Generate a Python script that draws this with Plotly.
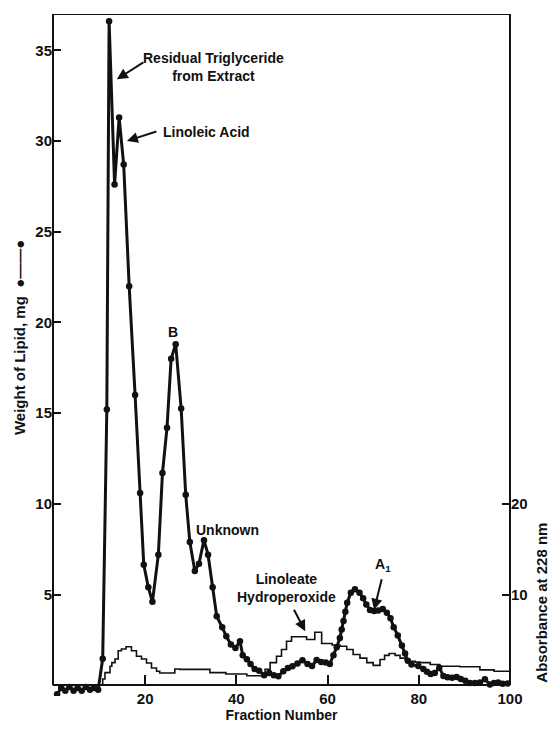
import plotly.graph_objects as go

# ---- data ----
fraction_lipid = [0.7, 1.6, 2.5, 3.4, 4.3, 5.2, 6.1, 7.0, 7.9, 8.8, 9.7,
                  10.7, 11.6, 12.1, 13.3, 14.3, 15.3, 16.5, 17.8, 18.9, 19.7,
                  20.7, 21.6, 22.9, 23.8, 24.8, 25.7, 26.7, 27.9, 28.9, 29.8,
                  30.9, 31.8, 32.9, 33.8, 34.8, 35.7, 36.9, 37.8, 38.8, 39.8,
                  40.8, 41.4, 42.3, 43.1, 44.0, 45.0, 46.1, 47.2, 48.2, 49.2,
                  50.3, 51.3, 52.3, 53.4, 54.5, 55.6, 56.6, 57.6, 58.6, 59.6,
                  60.5, 61.3, 62.0, 62.7, 63.1, 63.5, 63.9, 64.3, 65.1, 66.0,
                  67.0, 67.8, 68.5, 69.3, 70.2, 71.1, 72.1, 73.0, 73.8, 74.5,
                  75.4, 76.3, 77.0, 77.6, 78.4, 79.9, 81.0, 81.8, 82.6, 83.5,
                  84.5, 85.4, 86.3, 87.3, 88.3, 89.2, 90.2, 91.2, 92.3, 93.4,
                  94.5, 95.6, 96.5, 97.4, 98.4, 99.5]
lipid_mg = [-0.5, -0.15, -0.3, -0.1, -0.3, -0.15, -0.3, -0.1, -0.25, -0.15, -0.25,
            1.46, 15.2, 36.6, 27.6, 31.3, 28.7, 22.0, 16.0, 10.6, 6.65,
            5.4, 4.6, 7.2, 11.7, 14.2, 18.0, 18.8, 15.25, 10.5, 7.9,
            6.3, 6.7, 8.0, 7.2, 5.4, 3.8, 3.2, 2.7, 2.25, 2.05,
            2.43, 1.65, 1.43, 1.18, 0.9, 0.8, 0.55, 0.68, 0.55, 0.5,
            0.78, 0.95, 1.05, 1.2, 1.38, 1.18, 1.06, 1.4, 1.28, 1.26,
            1.18, 1.65, 2.1, 2.6, 3.08, 3.55, 4.05, 4.55, 5.1, 5.3,
            5.1, 4.8, 4.45, 4.15, 4.1, 4.12, 4.2, 4.0, 3.7, 3.2,
            2.75, 2.2, 1.75, 1.35, 1.15, 1.06, 0.9, 0.75, 0.62, 0.68,
            0.97, 0.51, 0.45, 0.42, 0.46, 0.35, 0.25, 0.12, 0.12, 0.15,
            0.33, 0.05, 0.12, 0.15, 0.08, 0.1]

fraction_abs = [0.0, 10.7, 11.2, 12.3, 12.7, 13.4, 14.1, 14.8, 15.8, 17.0,
                18.1, 19.2, 20.3, 21.4, 22.5, 23.2, 26.5, 27.6, 34.2, 37.7,
                42.3, 46.3, 47.4, 48.8, 49.9, 51.0, 52.1, 55.4, 57.2, 58.7,
                61.0, 62.7, 64.2, 65.6, 67.1, 68.6, 70.0, 71.5, 72.5, 73.5,
                74.8, 75.9, 77.0, 78.1, 79.2, 80.3, 82.5, 84.6, 89.0, 93.4,
                96.5, 100.0]
absorbance_228 = [0.05, 0.7, 1.4, 2.1, 2.5, 2.9, 3.8, 4.0, 4.25, 3.8,
                  3.2, 2.9, 2.45, 1.9, 1.55, 1.35, 1.8, 1.75, 1.4, 1.25,
                  1.05, 1.75, 2.5, 3.2, 3.95, 4.85, 5.35, 5.05, 5.85, 4.6,
                  4.45, 4.3, 3.95, 3.4, 3.0, 2.5, 2.2, 2.85, 3.3, 3.5,
                  3.3, 3.0, 2.8, 2.65, 2.55, 2.5, 2.3, 2.1, 2.05, 1.7,
                  1.55, 1.45]

x_ticks = [20, 40, 60, 80, 100]
y_ticks = [5, 10, 15, 20, 25, 30, 35]
y2_ticks = [10, 20]

# ---- styling ----
FONT = "Liberation Sans, Arial, sans-serif"
INK = "#111111"
Y_MIN, Y_MAX = -0.59, 37.0
X_MIN, X_MAX = -0.2, 100.0

fig = go.Figure()
fig.add_trace(go.Scatter(
    x=fraction_abs, y=absorbance_228, yaxis="y2", mode="lines",
    line=dict(color=INK, width=1.6, shape="hv"), hoverinfo="skip", showlegend=False))
fig.add_trace(go.Scatter(
    x=fraction_lipid, y=lipid_mg, mode="lines+markers",
    line=dict(color=INK, width=3), marker=dict(size=6.5, color=INK),
    hoverinfo="skip", showlegend=False))

tickfont = dict(family=FONT, size=15, color=INK, weight="bold")
annfont = dict(family=FONT, size=14, color=INK, weight="bold")
titlefont = dict(family=FONT, size=15, color=INK, weight="bold")

fig.update_layout(
    width=550, height=731,
    margin=dict(l=53, r=40, t=14, b=31),
    paper_bgcolor="white", plot_bgcolor="white",
    xaxis=dict(range=[X_MIN, X_MAX], anchor="free",
               position=(0 - Y_MIN) / (Y_MAX - Y_MIN),
               showline=True, linecolor=INK, linewidth=2,
               ticks="inside", ticklen=9, tickwidth=2, tickcolor=INK,
               tickvals=x_ticks, tickfont=tickfont,
               title=dict(text="Fraction Number", font=annfont, standoff=2),
               showgrid=False, zeroline=False),
    yaxis=dict(range=[Y_MIN, Y_MAX], showline=False,
               ticks="inside", ticklen=8, tickwidth=2, tickcolor=INK,
               tickvals=y_ticks, tickfont=tickfont,
               showgrid=False, zeroline=False),
    yaxis2=dict(range=[2 * Y_MIN, 2 * Y_MAX], overlaying="y", side="right",
                showline=False, ticks="inside", ticklen=8, tickwidth=2,
                tickcolor=INK, tickvals=y2_ticks, tickfont=tickfont,
                showgrid=False, zeroline=False),
)

# frame (left, right, top)
for xp in (0, 1):
    fig.add_shape(type="line", xref="paper", yref="y", x0=xp, x1=xp,
                  y0=0, y1=Y_MAX, line=dict(color=INK, width=2))
fig.add_shape(type="line", xref="paper", yref="y", x0=0, x1=1,
              y0=Y_MAX, y1=Y_MAX, line=dict(color=INK, width=2))

# text labels
labels = [
    ("Residual Triglyceride<br>from Extract", 34.9, 34.1),
    ("Linoleic Acid", 33.5, 30.5),
    ("B", 26.1, 19.5),
    ("Unknown", 38.0, 8.57),
    ("Linoleate<br>Hydroperoxide", 51.0, 5.36),
    ("A<sub>1</sub>", 72.2, 6.65),
]
for text, lx, ly in labels:
    fig.add_annotation(text=text, x=lx, y=ly, xref="x", yref="y",
                       showarrow=False, font=annfont, align="center",
                       xanchor="center", yanchor="middle")

# arrows: tip (x, y) and tail offset in px
arrows = [
    (13.8, 33.4, 28, -18),
    (16.0, 30.0, 31, -10),
    (55.1, 2.98, -12, -23),
    (70.2, 4.16, 8, -32),
]
for tx, ty, ax, ay in arrows:
    fig.add_annotation(text="", x=tx, y=ty, xref="x", yref="y",
                       ax=ax, ay=ay, showarrow=True, arrowhead=2,
                       arrowsize=1.1, arrowwidth=2, arrowcolor=INK)

# axis titles
fig.add_annotation(text="Weight of Lipid, mg  \u25cf\u2014\u2014\u25cf", xref="paper", yref="paper",
                   x=-0.072, y=0.525, textangle=-90, showarrow=False,
                   font=titlefont, xanchor="center", yanchor="middle")
fig.add_annotation(text="Absorbance at 228 nm", xref="paper", yref="paper",
                   x=1.068, y=0.137, textangle=-90, showarrow=False,
                   font=titlefont, xanchor="center", yanchor="middle")

fig.write_html("out.html")
